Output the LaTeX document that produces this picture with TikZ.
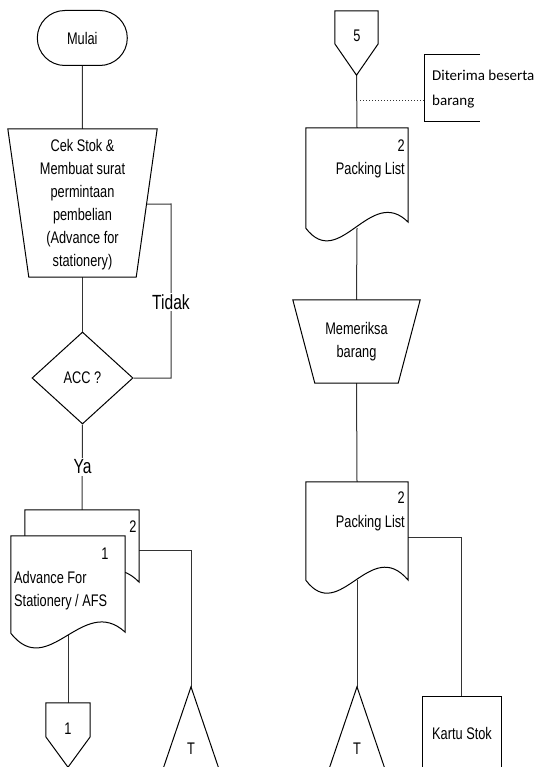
\documentclass[tikz,border=0pt]{standalone}
\usepackage{fontspec}
\setmainfont{Liberation Sans}[FakeStretch=0.76]
\newfontfamily\calfont{Carlito}
\usetikzlibrary{shapes.geometric,shapes.misc,calc}
\tikzset{
  base/.style={font=\fontsize{16.8}{23}\selectfont, inner sep=0pt, align=center},
  big/.style={font=\fontsize{20.5}{24}\selectfont, inner sep=1.5pt, fill=white},
  ghost/.style={base, draw=none, minimum width=#1},
  line/.style={draw=black!80, line width=1pt},
  outline/.style={draw=black, line width=1pt, fill=white},
}
\newcommand\wavedoc[4]{%
  \draw[outline] (#1.south west) -- (#1.north west) -- (#1.north east) -- ($(#1.south east)+(0,-#2)$)
    .. controls ($(#1.south west)!0.63!(#1.south east)+(0,-#4)$) and ($(#1.south west)!0.33!(#1.south east)+(0,#3)$) .. (#1.south west) -- cycle;}
\begin{document}
\begin{tikzpicture}[x=1pt,y=-1pt]
\clip (0,0) rectangle (537,767);
\fill[white] (0,0) rectangle (537,767);
% ---------- left column nodes
\node[base, rounded rectangle, outline, minimum width=90pt, minimum height=55pt] (mulai) at (82.3,38) {Mulai};
\node[ghost=149pt, minimum height=148pt] (cek) at (82.5,203) {};
\coordinate (cekBR) at ($(cek.south east)+(-21,0)$);
\coordinate (cekBL) at ($(cek.south west)+(21,0)$);
\coordinate (cekR) at ($(cek.north east)!0.5068!(cekBR)$);
\node[base, diamond, outline, minimum width=101pt, minimum height=92pt] (acc) at (82.5,378) {ACC ?};
\coordinate (loopc) at (171,204);
\node[ghost=114pt, minimum height=74pt] (afs2) at (82,547) {};
\node[ghost=114pt, minimum height=97pt] (afs1) at (68,584.5) {};
\coordinate (a2r) at ($(afs2.north east)+(0,41)$);
\node[ghost=44pt, minimum height=64pt] (c1) at (68,735) {};
\node[ghost=70pt, minimum height=103pt] (t1) at (191,738.5) {};
% ---------- right column nodes
\node[ghost=43pt, minimum height=64pt] (c5) at (356.5,43) {};
\node[ghost=55pt, minimum height=66pt] (annbox) at (452.5,88) {};
\coordinate (dotstart) at (360,101);
\node[ghost=102pt, minimum height=100pt] (pl1) at (357,178) {};
\node[ghost=127pt, minimum height=83pt] (mem) at (356.5,341.5) {};
\node[ghost=102pt, minimum height=98pt] (pl2) at (357,531) {};
\coordinate (p2r) at ($(pl2.north east)+(0,56)$);
\node[ghost=70pt, minimum height=103pt] (t2) at (357,738.5) {};
\node[ghost=79pt, minimum height=94pt, draw=black, line width=1pt] (kartu) at (461.5,743) {};
% ---------- connectors
\draw[line] (mulai.south) -- (cek.north);
\draw[line] (cek.south) -- (acc.north);
\draw[line] (acc.east) -| (loopc) -- (cekR);
\draw[line] (acc.south) -- (afs2.north);
\draw[line] (a2r) -| (t1.north);
\draw[line] (afs1.south -| c1.north) -- (c1.north);
\draw[line] (c5.south) -- (pl1.north);
\draw[line, dotted] (dotstart) -- (dotstart -| annbox.west);
\draw[line] (pl1.south) -- (mem.north);
\draw[line] (mem.south) -- (pl2.north);
\draw[line] (p2r) -| (kartu.north);
\draw[line] (pl2.south) -- (t2.north);
% ---------- outlines
\draw[outline] (cek.north west) -- (cek.north east) -- (cekBR) -- (cekBL) -- cycle;
\draw[outline] (mem.north west) -- (mem.north east) -- ($(mem.south east)+(-22,0)$) -- ($(mem.south west)+(22,0)$) -- cycle;
\draw[outline] (c5.north west) -- (c5.north east) -- ($(c5.north east)+(0,33)$) -- (c5.south) -- ($(c5.north west)+(0,33)$) -- cycle;
\draw[outline] (c1.north west) -- (c1.north east) -- ($(c1.north east)+(0,34)$) -- (c1.south) -- ($(c1.north west)+(0,34)$) -- cycle;
\draw[outline] (t1.north) -- (t1.south east) -- (t1.south west) -- cycle;
\draw[outline] (t2.north) -- (t2.south east) -- (t2.south west) -- cycle;
\draw[line width=1pt] (annbox.north east) -- (annbox.north west) -- (annbox.south west) -- (annbox.south east);
\wavedoc{afs2}{2}{45}{45}
\wavedoc{afs1}{1}{48}{40}
\wavedoc{pl1}{6}{44}{44}
\wavedoc{pl2}{0}{45}{45}
% ---------- texts
\node[base] (cektxt) at (82.5,205) {Cek Stok \&\\Membuat surat\\permintaan\\pembelian\\(Advance for\\stationery)};
\node[base] (memtxt) at (356.5,342) {Memeriksa\\barang};
\node[big] (tidak) at (171,302) {Tidak};
\node[big] (ya) at (82.5,467) {Ya};
\node[base] (a2n) at (133,527) {2};
\node[base] (a1n) at (105,554) {1};
\node[base, anchor=west, align=left] (a1t) at (14,590.5) {Advance For\\Stationery / AFS};
\node[base] (c1t) at (68,729) {1};
\node[base] (t1t) at (191,749) {T};
\node[base] (c5t) at (357,36) {5};
\node[base, anchor=west, align=left, font=\calfont\fontsize{15}{25}\selectfont] (annt) at (432,89) {Diterima beserta\\barang};
\node[base, anchor=east] (p1n) at (405,146) {2};
\node[base, anchor=east] (p1t) at (405,170) {Packing List};
\node[base, anchor=east] (p2n) at (405,498) {2};
\node[base, anchor=east] (p2t) at (405,523) {Packing List};
\node[base] (t2t) at (357,749) {T};
\node[base] (kt) at (462,733) {Kartu Stok};
\end{tikzpicture}
\end{document}
